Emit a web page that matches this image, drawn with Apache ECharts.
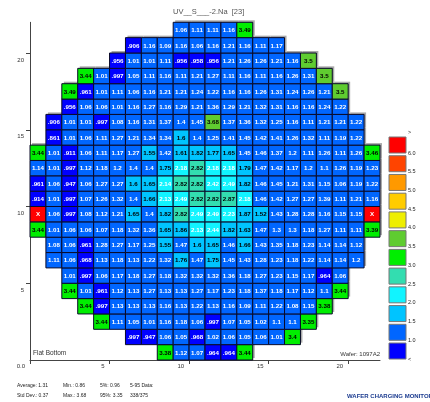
<!DOCTYPE html>
<html><head><meta charset="utf-8">
<script src="https://cdn.jsdelivr.net/npm/echarts/dist/echarts.min.js"></script>
<style>html,body{margin:0;padding:0;background:#fff}#c{width:430px;height:402px}</style>
</head><body><div id="c"></div><script>
// first column of each wafer row, top row first
const rowStartCols = [9,6,5,3,2,2,1,1,0,0,0,0,0,0,1,1,2,2,3,4,6,8];
const row01 = [1.06,1.11,1.11,1.16,3.49];
const row02 = [.906,1.16,1.09,1.16,1.06,1.16,1.21,1.16,1.11,1.17];
const row03 = [.956,1.01,1.01,1.11,.956,.958,.956,1.21,1.26,1.26,1.21,1.16,3.5];
const row04 = [3.44,1.01,.997,1.05,1.11,1.16,1.11,1.21,1.27,1.11,1.16,1.11,1.16,1.26,1.31,3.5];
const row05 = [3.49,.961,1.01,1.11,1.06,1.16,1.21,1.21,1.24,1.22,1.16,1.16,1.26,1.31,1.24,1.26,1.21,3.5];
const row06 = [.956,1.06,1.06,1.01,1.16,1.27,1.16,1.29,1.21,1.36,1.29,1.21,1.32,1.31,1.16,1.16,1.24,1.22];
const row07 = [.906,1.01,1.01,.997,1.08,1.16,1.31,1.37,1.4,1.45,3.68,1.37,1.36,1.32,1.25,1.16,1.11,1.21,1.21,1.22];
const row08 = [.861,1.01,1.06,1.11,1.27,1.21,1.34,1.34,1.6,1.4,1.25,1.41,1.45,1.42,1.41,1.26,1.32,1.11,1.19,1.22];
const row09 = [3.44,1.01,.911,1.06,1.11,1.17,1.27,1.55,1.42,1.61,1.82,1.77,1.65,1.45,1.46,1.37,1.2,1.11,1.26,1.11,1.26,3.46];
const row10 = [1.14,1.01,.997,1.12,1.18,1.2,1.4,1.4,1.75,2.18,2.82,2.18,2.18,1.79,1.47,1.42,1.17,1.2,1.1,1.26,1.19,1.23];
const row11 = [.961,1.06,.947,1.06,1.27,1.27,1.6,1.65,2.14,2.82,2.82,2.42,2.49,1.82,1.46,1.45,1.21,1.31,1.15,1.06,1.19,1.22];
const row12 = [.914,1.01,.997,1.07,1.26,1.32,1.4,1.66,2.13,2.49,2.82,2.82,2.87,2.18,1.46,1.42,1.27,1.27,1.39,1.11,1.21,1.16];
const row13 = ['X',1.06,.997,1.08,1.12,1.21,1.65,1.4,1.82,2.82,2.49,2.49,2.23,1.87,1.52,1.43,1.28,1.28,1.16,1.15,1.15,'X'];
const row14 = [3.44,1.01,1.06,1.06,1.07,1.18,1.32,1.36,1.65,1.86,2.13,2.44,1.82,1.63,1.47,1.3,1.3,1.18,1.27,1.11,1.11,3.39];
const row15 = [1.08,1.06,.961,1.28,1.27,1.17,1.25,1.55,1.47,1.6,1.65,1.46,1.66,1.43,1.35,1.18,1.23,1.14,1.14,1.12];
const row16 = [1.11,1.06,.968,1.13,1.18,1.13,1.22,1.32,1.76,1.47,1.75,1.45,1.43,1.28,1.23,1.18,1.22,1.14,1.14,1.2];
const row17 = [1.01,.997,1.06,1.17,1.18,1.27,1.18,1.32,1.32,1.32,1.36,1.18,1.27,1.23,1.15,1.17,.964,1.06];
const row18 = [3.44,1.01,.961,1.12,1.13,1.27,1.13,1.13,1.27,1.17,1.23,1.18,1.37,1.18,1.17,1.12,1.1,3.44];
const row19 = [3.44,.997,1.13,1.13,1.13,1.16,1.13,1.22,1.13,1.16,1.09,1.11,1.22,1.08,1.15,3.38];
const row20 = [3.44,1.11,1.05,1.01,1.16,1.18,1.06,.997,1.07,1.05,1.02,1.1,1.1,3.35];
const row21 = [.997,.947,1.06,1.05,.968,1.02,1.06,1.05,1.06,1.01,3.4];
const row22 = [3.38,1.12,1.07,.964,.964,3.44];
const rows = [row01,row02,row03,row04,row05,row06,row07,row08,row09,row10,row11,row12,row13,row14,row15,row16,row17,row18,row19,row20,row21,row22];

// colour scale, top (highest) first
const scaleLower = [6.0,5.5,5.0,4.5,4.0,3.5,3.0,2.5,2.0,1.5,1.0,-Infinity];
const scaleColors = ['#ff0000','#ff4400','#ff9900','#ffcc00','#eeee00','#5fcc30','#00ee00','#33ddb0','#11f4ff','#00c4ff','#0066ff','#0000ff'];
const scaleLabels = ['6.0','5.5','5.0','4.5','4.0','3.5','3.0','2.5','2.0','1.5','1.0','<'];
const scaleTop = '>';

const titleText = 'UV__S___-2.Na  [23]';
const leftNote = 'Flat Bottom';
const rightNote = 'Wafer: 1097A2';
const statCols = [['Average: 1.31','Std Dev.: 0.37'],['Min.: 0.86','Max.: 3.68'],['5%: 0.96','95%: 3.35'],['5-95 Data:','338/375']];
const footer = 'WAFER CHARGING MONITORS, INC.';

function colorOf(v){
  if (v === 'X') return '#ff0000';
  for (let i=0;i<scaleLower.length;i++) if (v >= scaleLower[i]) return scaleColors[i];
  return scaleColors[scaleColors.length-1];
}
function textColorOf(v){
  if (v === 'X') return '#ffffff';
  if (v < 1.5) return '#ffffff';
  if (v < 2.0) return '#000000';
  if (v < 2.5) return '#ffffff';
  return '#000000';
}
function fmt(v){
  if (v === 'X') return 'X';
  let s = Number(v).toPrecision(3);
  if (s.indexOf('.')>=0) s = s.replace(/0+$/,'').replace(/\.$/,'');
  if (s.startsWith('0.')) s = s.slice(1);
  return s;
}

const cells = [];
for (let i = rows.length-1; i >= 0; i--) {
  const r = rows.length-1-i;
  rows[i].forEach((v,j)=>{ cells.push({c: rowStartCols[i]+j, r: r, v: v}); });
}

const chart = echarts.init(document.getElementById('c'), null, {renderer:'canvas'});
const graphics = [];
const boxX = 389, boxY0 = 137, boxStep = 18.73, boxW = 17, boxH = 16;
scaleColors.forEach((col,i)=>{
  graphics.push({type:'rect', shape:{x:boxX, y:boxY0+i*boxStep, width:boxW, height:boxH}, style:{fill:col, stroke:'#777', lineWidth:1}});
  graphics.push({type:'text', style:{text:scaleLabels[i], x:boxX+19, y:boxY0+i*boxStep+boxH, textVerticalAlign:'middle', font:'5.5px "Liberation Sans"', fill:'#222'}});
});
graphics.push({type:'text', style:{text:scaleTop, x:boxX+19, y:boxY0-5, textVerticalAlign:'middle', font:'5.5px "Liberation Sans"', fill:'#222'}});
graphics.push({type:'text', style:{text:leftNote, x:33, y:353, textVerticalAlign:'middle', font:'6.5px "Liberation Sans"', fill:'#333'}});
graphics.push({type:'text', style:{text:rightNote, x:380, y:354, textAlign:'right', textVerticalAlign:'middle', font:'6px "Liberation Sans"', fill:'#333'}});
const statX = [17, 63, 100, 130];
statCols.forEach((pair,k)=>{
  graphics.push({type:'text', style:{text:pair[0], x:statX[k], y:386, textVerticalAlign:'middle', font:'5px "Liberation Sans"', fill:'#222'}});
  graphics.push({type:'text', style:{text:pair[1], x:statX[k], y:395.5, textVerticalAlign:'middle', font:'5px "Liberation Sans"', fill:'#222'}});
});
graphics.push({type:'text', style:{text:footer, x:347, y:396, textVerticalAlign:'middle', font:'bold 6px "Liberation Sans"', fill:'#1a3a8f'}});

chart.setOption({
  animation:false,
  backgroundColor:'#ffffff',
  title:{text:titleText, left:168, top:3, textStyle:{fontSize:7.5, fontWeight:'normal', color:'#555', fontFamily:'Liberation Sans'}},
  grid:{left:30, right:50, top:22.3, bottom:42},
  xAxis:{type:'value', min:0, max:22, interval:5,
    axisLine:{lineStyle:{color:'#444', width:1}},
    axisTick:{show:true, length:4, lineStyle:{color:'#444'}},
    splitLine:{show:false},
    axisLabel:{fontSize:6, color:'#333', fontFamily:'Liberation Sans', align:'right', margin:3, padding:[0,5,0,0],
      showMaxLabel:false, formatter:v=> v===0 ? '0.0' : (v>=22 ? '' : String(v))}},
  yAxis:{type:'value', min:0, max:22, interval:5,
    axisLine:{lineStyle:{color:'#444', width:1}},
    axisTick:{show:true, length:4, lineStyle:{color:'#444'}},
    splitLine:{show:false},
    axisLabel:{fontSize:6, color:'#333', fontFamily:'Liberation Sans', verticalAlign:'top', margin:6, padding:[4,0,0,0],
      showMinLabel:false, showMaxLabel:false, formatter:v=> (v===0||v>=22) ? '' : String(v)}},
  graphic: graphics,
  series:[{
    type:'custom',
    clip:false,
    data: cells.map((d,i)=>[d.c, d.r, i]),
    encode:{x:0, y:1},
    renderItem:function(params, api){
      const cell = cells[api.value(2)];
      const tl = api.coord([api.value(0), api.value(1)+1]);
      const br = api.coord([api.value(0)+1, api.value(1)]);
      const x = tl[0], y = tl[1], w = br[0]-tl[0], h = br[1]-tl[1];
      return {type:'group', children:[
        {type:'rect', shape:{x:x+2, y:y-2, width:w, height:h}, style:{fill:'#a9a9a9'}},
        {type:'rect', shape:{x:x, y:y, width:w, height:h}, style:{fill:colorOf(cell.v), stroke:'#0a0a28', lineWidth:1}},
        {type:'text', style:{text:fmt(cell.v), x:x+w/2, y:y+h/2+0.5, textAlign:'center', textVerticalAlign:'middle',
          fill:textColorOf(cell.v), font:'bold 6.2px "Liberation Sans"'}}
      ]};
    }
  }]
});
</script></body></html>
